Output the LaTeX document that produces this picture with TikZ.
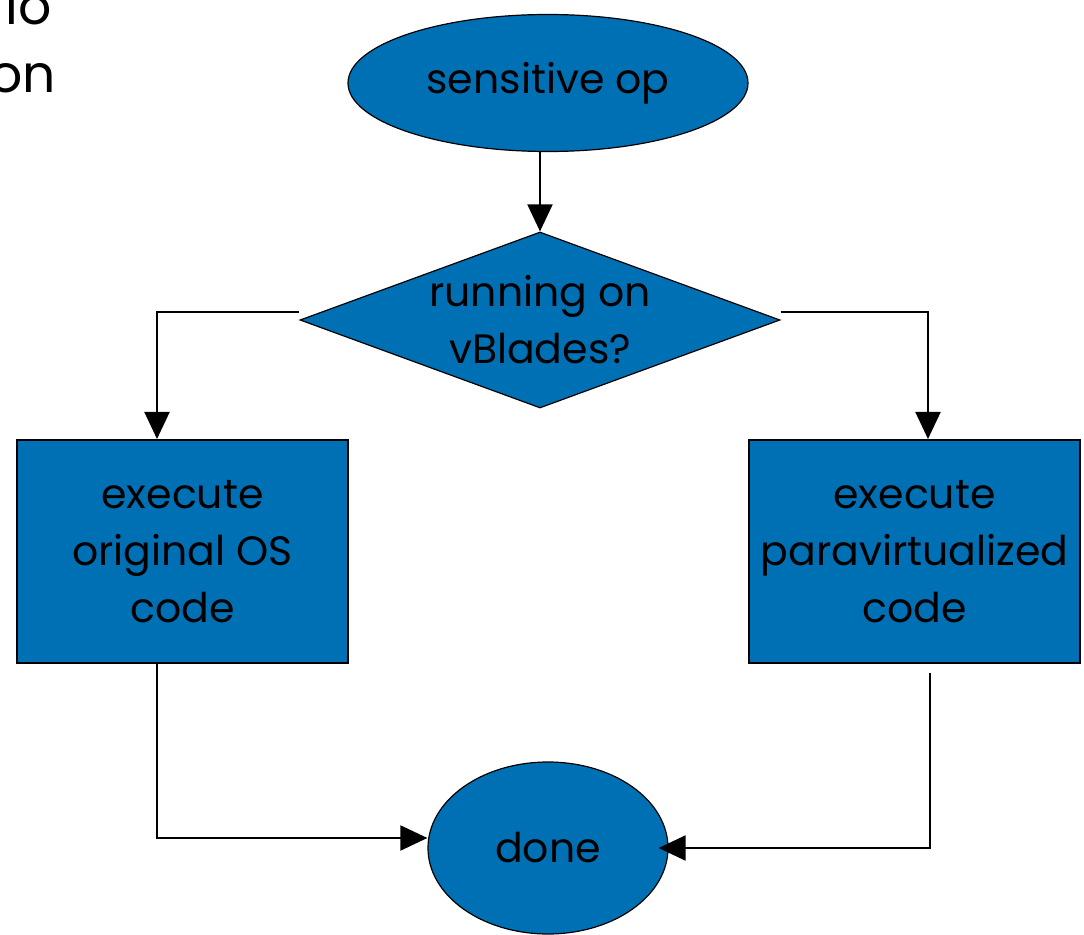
\documentclass[tikz,border=0pt]{standalone}
\usepackage{fontspec}
\setmainfont{Poppins}
\usetikzlibrary{arrows.meta,shapes,positioning}
\definecolor{slideblue}{RGB}{0,112,181}

\begin{document}
\begin{tikzpicture}
    [x=0.5pt, y=0.5pt, >={Triangle[length=13.5pt,width=12.5pt]},
    base/.style={draw, fill=slideblue, align=center, inner sep=0pt,
      font=\fontsize{20.5}{28.5}\selectfont},
    terminal/.style={base, ellipse, line width=0.6pt},
    decision/.style={base, diamond, line width=0.6pt, shape aspect=2.73, inner sep=-2pt},
    process/.style={base, rectangle, line width=1pt},
    flow/.style={->, line width=1pt},
    fragment/.style={anchor=base east, inner sep=0pt, font=\fontsize{26}{34}\selectfont}]

  \clip (0,0) rectangle (1084,934);
  \useasboundingbox (0,0) rectangle (1084,934);

  % cut-off slide text
  \node[fragment] (frag1) at (52,909) {io};
  \node[fragment] (frag2) at (56,841) {on};

  \node[terminal, minimum width=200pt, minimum height=68.5pt] (sensop) at (548,851) {sensitive op};
  \node[decision, minimum width=240pt, minimum height=88pt] (running) at (540,614) {running on\\vBlades?};
  \node[process, minimum width=165.5pt, minimum height=111.5pt] (origcode) at (182.5,382.5) {execute\\original OS\\code};
  \node[process, minimum width=165.5pt, minimum height=111.5pt] (paracode) at (914.5,382.5) {execute\\paravirtualized\\code};
  \node[terminal, minimum width=120pt, minimum height=86pt] (done) at (548,86) {done};

  \draw[flow] (sensop.south -| running.north) -- (running);
  \draw[flow] ([yshift=4pt]running.west) -| ([xshift=-12.75pt]origcode.north);
  \draw[flow] ([yshift=4pt]running.east) -| ([xshift=6.75pt]paracode.north);
  \draw[flow] ([xshift=-12.75pt]origcode.south) |- ([yshift=5pt]done.west);
  \draw[flow] ([xshift=7.75pt,yshift=-4.5pt]paracode.south) |- ([xshift=-5pt]done.east);

\end{tikzpicture}
\end{document}
